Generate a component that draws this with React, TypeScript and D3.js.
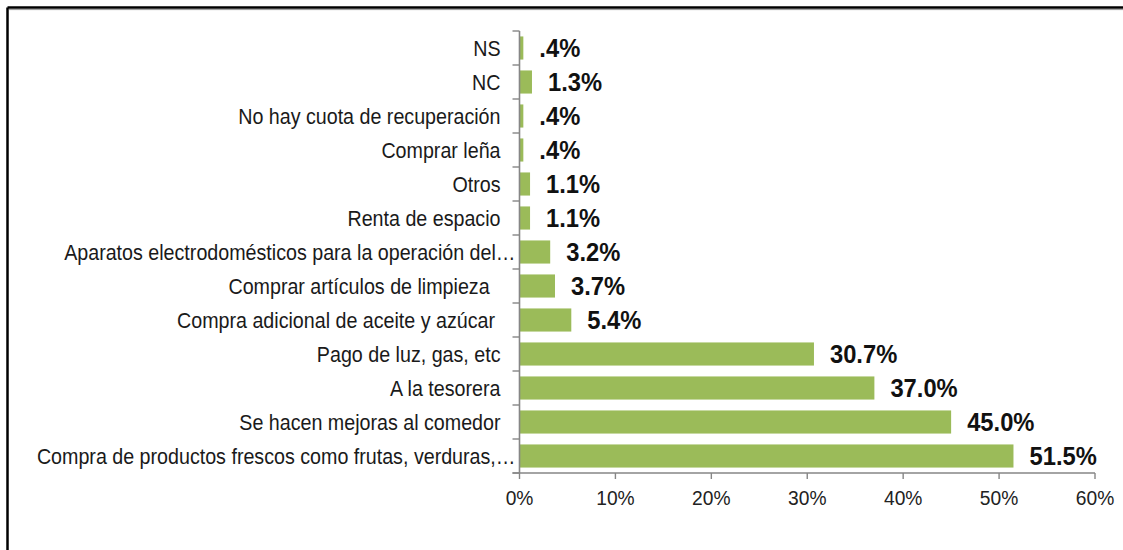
import React from "react";
import * as d3 from "d3";

const categories: string[] = [
  "NS",
  "NC",
  "No hay cuota de recuperación",
  "Comprar leña",
  "Otros",
  "Renta de espacio",
  "Aparatos electrodomésticos para la operación del…",
  "Comprar artículos de limpieza  ",
  "Compra adicional de aceite y azúcar ",
  "Pago de luz, gas, etc",
  "A la tesorera",
  "Se hacen mejoras al comedor",
  "Compra de productos frescos como frutas, verduras,…",
];

const values: number[] = [0.4, 1.3, 0.4, 0.4, 1.1, 1.1, 3.2, 3.7, 5.4, 30.7, 37.0, 45.0, 51.5];

const xTicks: number[] = [0, 10, 20, 30, 40, 50, 60];

const W = 1123;
const H = 550;
const axisX = 519.5;
const xRight = 1095;
const yTop = 31;
const yBottom = 473;

const FONT = "'Liberation Sans', Arial, sans-serif";
const BAR = "#9BBB59";
const AXIS = "#868686";
const SX = 0.915;

function fmtValue(v: number): string {
  const s = d3.format(".1f")(v) + "%";
  return s.startsWith("0.") ? s.slice(1) : s;
}

export default function App() {
  const x = d3.scaleLinear().domain([0, 60]).range([axisX, xRight]);
  const y = d3
    .scaleBand<string>()
    .domain(categories)
    .range([yTop, yBottom])
    .paddingInner(0.32)
    .paddingOuter(0.16);
  const step = y.step();
  const boundaries = d3.range(categories.length + 1).map((k) => yTop + k * step);

  return (
    <div style={{ position: "fixed", left: 0, top: 0 }}>
      <svg width={W} height={H} style={{ display: "block", background: "#fff" }}>
        {/* frame */}
        <line x1={7.5} y1={7.5} x2={W} y2={7.5} stroke="#000" strokeWidth={2.5} />
        <line x1={7.5} y1={7.5} x2={7.5} y2={H} stroke="#000" strokeWidth={2.5} />
        <line x1={9} y1={9.6} x2={W} y2={9.6} stroke="#999" strokeWidth={1} />

        {/* bars */}
        {categories.map((c, i) => (
          <rect
            key={"b" + i}
            x={x(0)}
            y={y(c)}
            width={x(values[i]) - x(0)}
            height={y.bandwidth()}
            fill={BAR}
          />
        ))}

        {/* y axis */}
        <line x1={axisX} y1={yTop} x2={axisX} y2={yBottom} stroke={AXIS} strokeWidth={1.6} />
        {boundaries.map((b, k) => (
          <line key={"yt" + k} x1={axisX - 7} y1={b} x2={axisX} y2={b} stroke={AXIS} strokeWidth={1.4} />
        ))}

        {/* x axis */}
        <line x1={axisX - 7} y1={yBottom} x2={xRight} y2={yBottom} stroke={AXIS} strokeWidth={1.6} />
        {xTicks.map((t) => (
          <g key={"xt" + t}>
            <line x1={x(t)} y1={yBottom} x2={x(t)} y2={yBottom + 6} stroke={AXIS} strokeWidth={1.4} />
            <text
              transform={`translate(${x(t)},505) scale(${SX},1)`}
              textAnchor="middle"
              fontFamily={FONT}
              fontSize={21}
              fill="#222"
            >
              {t + "%"}
            </text>
          </g>
        ))}

        {/* category labels */}
        {categories.map((c, i) => {
          const tx = c.endsWith("…") ? axisX - 4 : axisX - 19;
          const ty = (y(c) as number) + y.bandwidth() / 2;
          return (
            <text
              key={"c" + i}
              transform={`translate(${tx},${ty}) scale(${SX},1)`}
              dy="0.36em"
              textAnchor="end"
              fontFamily={FONT}
              fontSize={21.5}
              fill="#1a1a1a"
              style={{ whiteSpace: "pre" }}
            >
              {c}
            </text>
          );
        })}

        {/* value labels */}
        {categories.map((c, i) => (
          <text
            key={"v" + i}
            transform={`translate(${x(values[i]) + 16},${(y(c) as number) + y.bandwidth() / 2}) scale(0.95,1)`}
            dy="0.37em"
            fontFamily={FONT}
            fontSize={25}
            fontWeight="bold"
            fill="#111"
          >
            {fmtValue(values[i])}
          </text>
        ))}
      </svg>
    </div>
  );
}
